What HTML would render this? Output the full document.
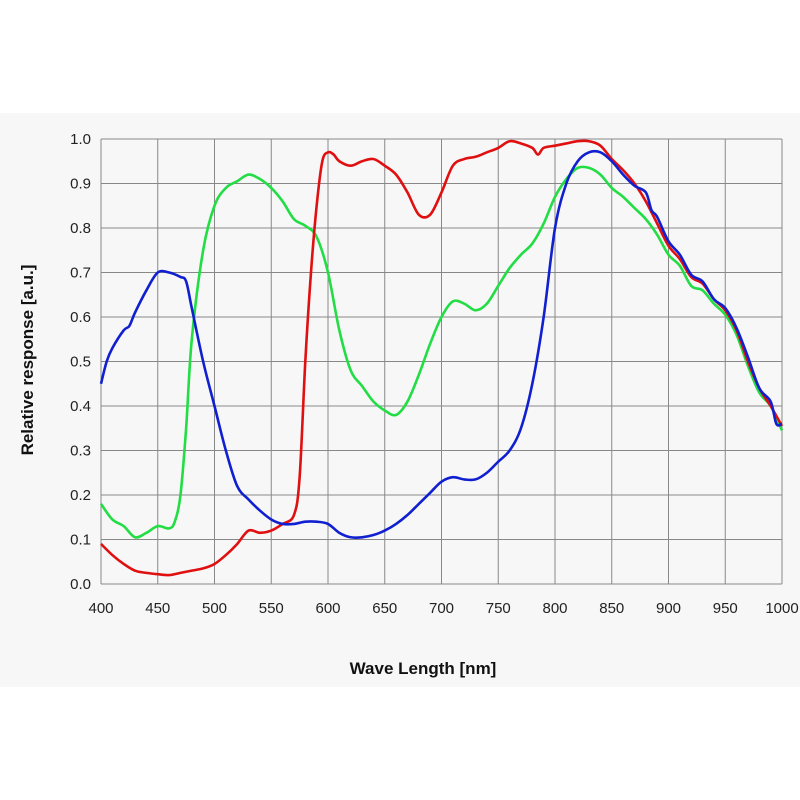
<!DOCTYPE html>
<html><head><meta charset="utf-8"><style>
body{margin:0;background:#fff;}
svg{display:block;font-family:"Liberation Sans",sans-serif;}
</style></head><body>
<svg id="chart" width="800" height="800">
<rect x="0" y="113" width="800" height="574" fill="#f7f7f7"/>
<g id="grid"></g>
<g id="ticks"></g>
<g id="series"></g>
<text x="423" y="674" text-anchor="middle" font-size="17" font-weight="bold" fill="#111">Wave Length [nm]</text>
<text transform="translate(33,360) rotate(-90)" text-anchor="middle" font-size="17" font-weight="bold" fill="#111">Relative  response [a.u.]</text>
</svg>
<script>
const xTicks=[400,450,500,550,600,650,700,750,800,850,900,950,1000];
const yTicks=[0,0.1,0.2,0.3,0.4,0.5,0.6,0.7,0.8,0.9,1.0];
const blueX=[400,405,410,420,425,430,440,450,460,470,475,480,490,500,510,520,530,540,550,560,570,580,590,600,610,620,630,640,650,660,670,680,690,700,710,720,730,740,750,760,770,780,790,800,810,820,830,840,850,860,870,880,885,890,900,910,920,930,940,950,960,970,980,990,995,1000];
const blueY=[0.45,0.5,0.53,0.57,0.58,0.61,0.66,0.70,0.70,0.69,0.68,0.62,0.50,0.40,0.30,0.22,0.19,0.165,0.145,0.135,0.135,0.14,0.14,0.135,0.115,0.105,0.105,0.11,0.12,0.135,0.155,0.18,0.205,0.23,0.24,0.235,0.235,0.25,0.275,0.30,0.35,0.45,0.6,0.8,0.90,0.95,0.97,0.97,0.95,0.92,0.895,0.88,0.84,0.825,0.77,0.74,0.695,0.68,0.64,0.62,0.575,0.51,0.44,0.41,0.36,0.36];
const redX=[400,410,420,430,440,450,460,470,480,490,500,510,520,530,540,550,560,570,575,580,585,590,595,600,605,610,620,630,640,650,660,670,680,690,700,710,720,730,740,750,760,770,780,785,790,800,810,820,830,840,850,860,870,880,890,900,910,920,930,940,950,960,970,980,990,1000];
const redY=[0.09,0.065,0.045,0.03,0.025,0.022,0.02,0.025,0.03,0.035,0.045,0.065,0.09,0.12,0.115,0.12,0.135,0.155,0.24,0.5,0.7,0.85,0.95,0.97,0.965,0.95,0.94,0.95,0.955,0.94,0.92,0.88,0.83,0.83,0.88,0.94,0.955,0.96,0.97,0.98,0.995,0.99,0.98,0.965,0.98,0.985,0.99,0.995,0.995,0.985,0.955,0.93,0.9,0.86,0.81,0.76,0.73,0.69,0.675,0.64,0.615,0.57,0.5,0.44,0.4,0.355];
const greenX=[400,410,420,430,440,450,460,465,470,475,480,490,500,510,520,530,540,550,560,570,580,590,600,610,620,630,640,650,660,670,680,690,700,710,720,730,740,750,760,770,780,790,800,810,820,830,840,850,860,870,880,890,900,910,920,930,940,950,960,970,980,990,1000];
const greenY=[0.18,0.145,0.13,0.105,0.115,0.13,0.125,0.14,0.2,0.35,0.55,0.75,0.85,0.89,0.905,0.92,0.91,0.89,0.86,0.82,0.805,0.78,0.70,0.57,0.48,0.445,0.41,0.39,0.38,0.41,0.47,0.54,0.60,0.635,0.63,0.615,0.63,0.67,0.71,0.74,0.765,0.81,0.87,0.91,0.935,0.935,0.92,0.89,0.87,0.845,0.82,0.785,0.74,0.715,0.67,0.66,0.63,0.605,0.56,0.49,0.43,0.40,0.345];

const NS="http://www.w3.org/2000/svg";
const X0=101,X1=782,Y0=584,Y1=139;
const sx=v=>X0+(v-400)/600*(X1-X0);
const sy=v=>Y0-v*(Y0-Y1);
function mk(tag,attrs,parent){const e=document.createElementNS(NS,tag);for(const k in attrs)e.setAttribute(k,attrs[k]);parent.appendChild(e);return e;}
const grid=document.getElementById('grid'),ticks=document.getElementById('ticks'),series=document.getElementById('series');
xTicks.forEach(t=>{
  const l=mk('line',{x1:sx(t),x2:sx(t),y1:Y1,y2:Y0,stroke:'#888','stroke-width':1},grid);
  
  
  const tx=mk('text',{x:sx(t),y:Y0+29,'text-anchor':'middle','font-size':15,fill:'#222'},ticks);
  tx.textContent=t;
  
  
});
yTicks.forEach(t=>{
  const l=mk('line',{x1:X0,x2:X1,y1:sy(t),y2:sy(t),stroke:'#888','stroke-width':1},grid);
  
  
  const tx=mk('text',{x:91,y:sy(t)+5,'text-anchor':'end','font-size':15,fill:'#222'},ticks);
  tx.textContent=t.toFixed(1);
  
  
});
function draw(xs,ys,color,name){
  const pts=xs.map((x,i)=>[sx(x),sy(ys[i])]);
  let d='M'+pts[0][0]+','+pts[0][1];
  for(let i=0;i<pts.length-1;i++){
    const p0=pts[i-1]||pts[i],p1=pts[i],p2=pts[i+1],p3=pts[i+2]||p2;
    const c1=[p1[0]+(p2[0]-p0[0])/6,p1[1]+(p2[1]-p0[1])/6];
    const c2=[p2[0]-(p3[0]-p1[0])/6,p2[1]-(p3[1]-p1[1])/6];
    d+=` C${c1[0]},${c1[1]} ${c2[0]},${c2[1]} ${p2[0]},${p2[1]}`;
  }
  const p=mk('path',{d:d,fill:'none',stroke:color,'stroke-width':2.6,'stroke-linejoin':'round'},series);
  
  
}
draw(greenX,greenY,'#22dd44','green-curve');
draw(redX,redY,'#e01010','red-curve');
draw(blueX,blueY,'#1020d0','blue-curve');
</script>
</body></html>
